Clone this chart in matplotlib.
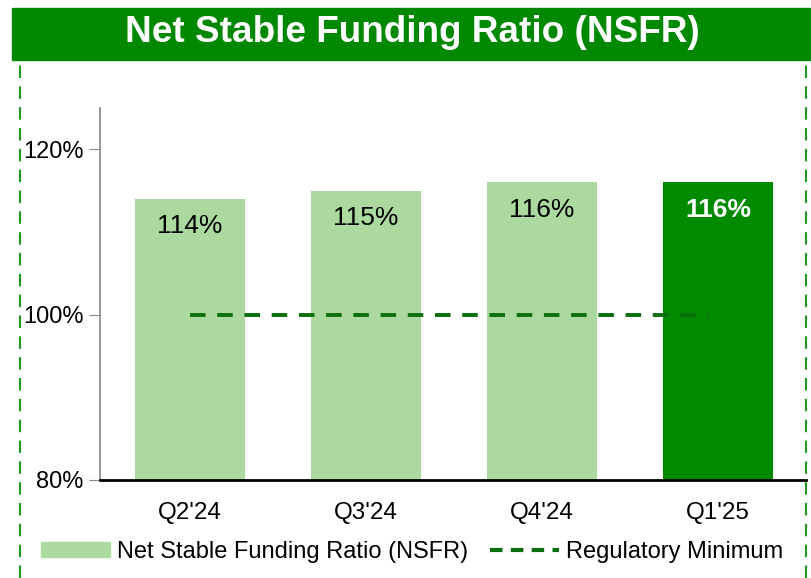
import matplotlib.pyplot as plt
from matplotlib.patches import Rectangle, Patch
from matplotlib.lines import Line2D
from matplotlib.ticker import FuncFormatter

plt.rcParams['font.family'] = ['Liberation Sans', 'DejaVu Sans']

# data
quarters = ["Q2'24", "Q3'24", "Q4'24", "Q1'25"]
nsfr = [114, 115, 116, 116]
reg_min = 100

light_green = '#acd9a0'
dark_green = '#008a00'
band_green = '#008800'

fig = plt.figure(figsize=(8.12, 5.78), dpi=100)

# title band
fig.patches.append(Rectangle((12 / 812, 1 - 60 / 578), 800 / 812, 52 / 578,
                             transform=fig.transFigure, color=band_green, zorder=0))
fig.text(0.508, 1 - 33 / 578, 'Net Stable Funding Ratio (NSFR)', ha='center', va='center',
         color='white', fontsize=26.6, fontweight='bold')

# dashed frame on both sides
for xpx in (20, 806):
    fig.lines.append(Line2D([xpx / 812, xpx / 812], [0, 1 - 60 / 578], transform=fig.transFigure,
                            color='#1f9a1f', lw=1.5, dashes=(6, 4)))

ax = fig.add_axes([100 / 812, 98 / 578, 706 / 812, 372 / 578])
x = range(len(quarters))
colors = [light_green] * 3 + [dark_green]
ax.bar(x, nsfr, width=0.625, color=colors, zorder=2)

# regulatory minimum line
ax.plot([0, 2.95], [reg_min, reg_min], color='#0a6e0a', lw=2.8, dashes=(4, 3), zorder=3)

for i, v in enumerate(nsfr):
    last = i == len(nsfr) - 1
    ax.text(i, v - 3.3, f'{v}%', ha='center', va='center', fontsize=19,
            color='white' if last else 'black', fontweight='bold' if last else 'normal')

ax.set_ylim(80, 125)
ax.set_xlim(-0.51, 3.5)
ax.set_yticks([80, 100, 120])
ax.yaxis.set_major_formatter(FuncFormatter(lambda v, _: f'{v:.0f}%'))
ax.set_xticks(list(x))
ax.set_xticklabels(quarters)
ax.tick_params(axis='x', length=0, labelsize=17.5, pad=16)
ax.tick_params(axis='y', length=8, color='#888888', labelsize=17, pad=4)

for s in ('top', 'right'):
    ax.spines[s].set_visible(False)
ax.spines['left'].set_color('#888888')
ax.spines['left'].set_linewidth(1.2)
ax.spines['bottom'].set_color('black')
ax.spines['bottom'].set_linewidth(2)

handles = [Patch(color=light_green),
           Line2D([0], [0], color='#0a6e0a', lw=3, dashes=(3, 2))]
fig.legend(handles, ['Net Stable Funding Ratio (NSFR)', 'Regulatory Minimum'],
           loc='center', bbox_to_anchor=(412 / 812, 1 - 552 / 578), ncol=2, frameon=False,
           fontsize=17, handlelength=2.9, handleheight=0.6, handletextpad=0.3,
           columnspacing=0.95)

fig.savefig('out.png', dpi=100)
